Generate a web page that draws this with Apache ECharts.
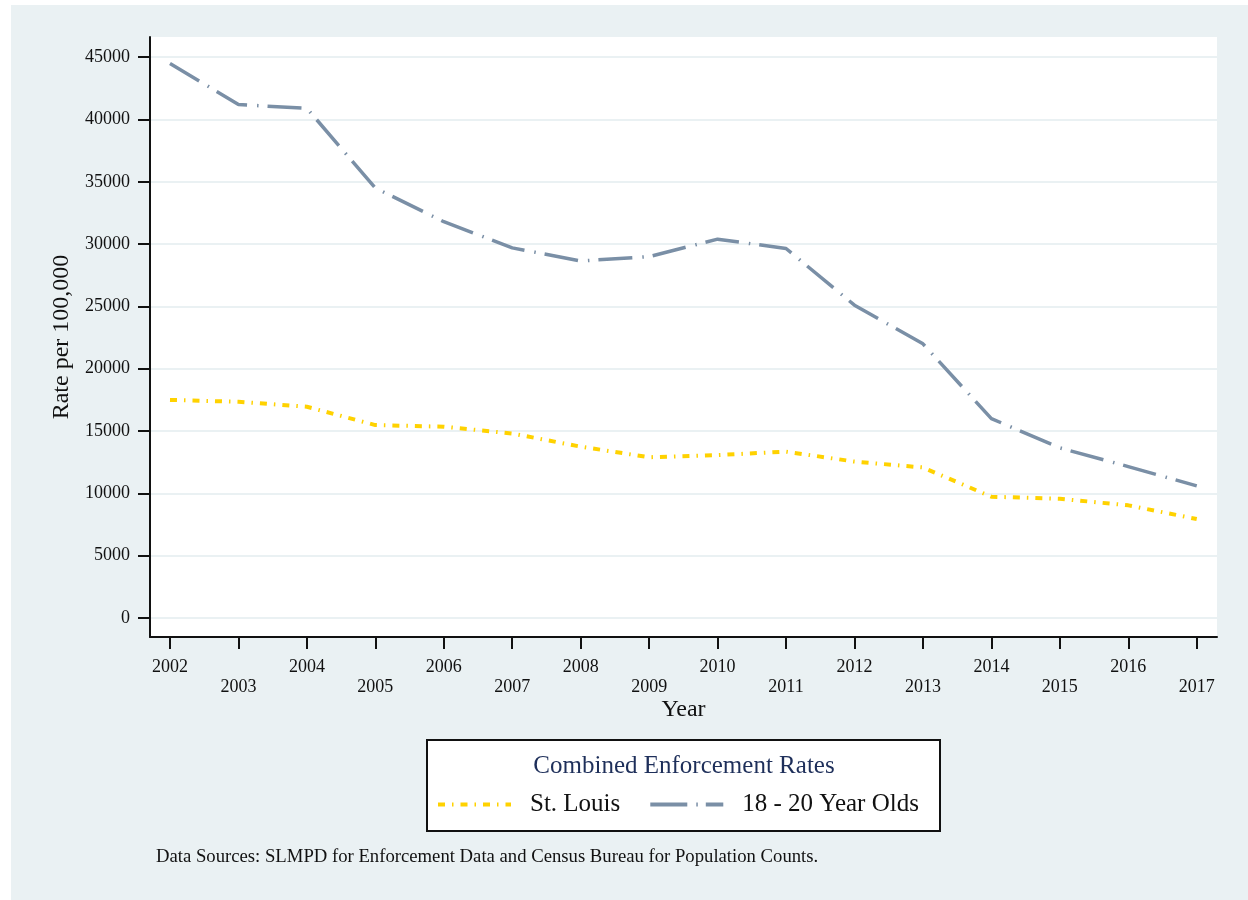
<!DOCTYPE html>
<html>
<head>
<meta charset="utf-8">
<script src="https://cdn.jsdelivr.net/npm/echarts@6/dist/echarts.min.js"></script>
<style>html,body{margin:0;padding:0;background:#fff;}#chart{width:1248px;height:900px;}</style>
</head>
<body>
<div id="chart"></div>
<script>
var years = [2002,2003,2004,2005,2006,2007,2008,2009,2010,2011,2012,2013,2014,2015,2016,2017];
var stLouis = [17500,17350,16950,15480,15350,14800,13750,12900,13070,13350,12550,12080,9730,9570,9040,7940];
var youth = [44500,41200,40900,34500,31800,29700,28650,29000,30400,29650,25100,22000,16000,13650,12150,10600];
var yTicks = [0,5000,10000,15000,20000,25000,30000,35000,40000,45000];
var seriesNames = ['St. Louis','18 - 20 Year Olds'];
var legendTitle = 'Combined Enforcement Rates';
var footnote = 'Data Sources: SLMPD for Enforcement Data and Census Bureau for Population Counts.';

var FONT = 'Liberation Serif';
function pairs(vals){ return years.map(function(y,i){ return [y, vals[i]]; }); }
// legend sample icons: list of [start,end] segments across a 73 x 4 box
function iconPath(segs){
  return 'path://' + segs.map(function(s){ return 'M' + s[0] + ',0H' + s[1] + 'V4H' + s[0] + 'Z'; }).join(' ');
}
var yellowIcon = iconPath([[0,7],[14,15.5],[22.5,29.5],[36.5,38],[45,52],[59,60.5],[67.5,73]]);
var grayIcon = iconPath([[0,37],[46,47.5],[55.5,73]]);

var chart = echarts.init(document.getElementById('chart'), null, {renderer:'canvas'});
chart.setOption({
  backgroundColor: '#ffffff',
  animation: false,
  textStyle: {fontFamily: FONT},
  graphic: {elements: [
    {type:'rect', z:-10, shape:{x:11,y:5,width:1237,height:895}, style:{fill:'#eaf1f3'}},
    {type:'rect', z:1, shape:{x:427,y:740,width:513,height:91}, style:{fill:'#ffffff', stroke:'#111', lineWidth:2}},
    {type:'text', z:2, style:{text:legendTitle, x:684, y:766, fill:'#1e2f5a', font:'25px "Liberation Serif"', textAlign:'center', textVerticalAlign:'middle'}},
    {type:'text', z:2, style:{text:footnote, x:156, y:857, fill:'#111', font:'18.7px "Liberation Serif"', textAlign:'left', textVerticalAlign:'middle'}}
  ]},
  grid: {left:150, right:31, top:37, bottom:263, show:true, backgroundColor:'#ffffff', borderWidth:0},
  legend: {
    data: [
      {name: seriesNames[0], icon: yellowIcon, itemStyle:{color:'#ffd200'}},
      {name: seriesNames[1], icon: grayIcon, itemStyle:{color:'#7a8fa6'}}
    ],
    left: 438, top: 792, z: 10, padding: 0,
    itemWidth: 73, itemHeight: 4, itemGap: 30,
    textStyle: {fontFamily: FONT, fontSize: 25, color:'#111', padding:[0,0,0,14]}
  },
  xAxis: {
    type:'value', min:2001.708, max:2017.296,
    name:'Year', nameLocation:'middle', nameGap:61, nameMoveOverlap:false,
    nameTextStyle:{fontFamily:FONT, fontSize:24, color:'#111'},
    axisLine:{show:true, onZero:false, lineStyle:{color:'#111', width:2}},
    axisTick:{show:true, length:12, customValues: years, lineStyle:{color:'#111', width:2}},
    axisLabel:{customValues: years, margin:20, fontFamily:FONT, fontSize:18, color:'#111', lineHeight:20,
      formatter:function(v){ return (Math.round(v)%2===1 ? '\n' : '') + Math.round(v); }},
    splitLine:{show:false}
  },
  yAxis: {
    type:'value', min:-1524, max:46620,
    name:'Rate per 100,000', nameLocation:'middle', nameGap:72, nameRotate:90,
    nameTextStyle:{fontFamily:FONT, fontSize:24, color:'#111'},
    axisLine:{show:true, onZero:false, lineStyle:{color:'#111', width:2}},
    axisTick:{show:true, length:12, customValues: yTicks, lineStyle:{color:'#111', width:2}},
    axisLabel:{customValues: yTicks, margin:20, fontFamily:FONT, fontSize:18, color:'#111',
      formatter:function(v){ return String(Math.round(v)); }},
    splitLine:{show:true, lineStyle:{color:'#eaf1f3', width:2}}
  },
  series: [
    {name:seriesNames[0], type:'line', data:pairs(stLouis), symbol:'none', smooth:false,
     lineStyle:{color:'#ffd200', width:4, type:[7,7,1.5,7]}, itemStyle:{color:'#ffd200'}},
    {name:seriesNames[1], type:'line', data:pairs(youth), symbol:'none', smooth:false,
     lineStyle:{color:'#7a8fa6', width:3.5, type:[34,10,1.5,9]}, itemStyle:{color:'#7a8fa6'}}
  ]
});
</script>
</body>
</html>
